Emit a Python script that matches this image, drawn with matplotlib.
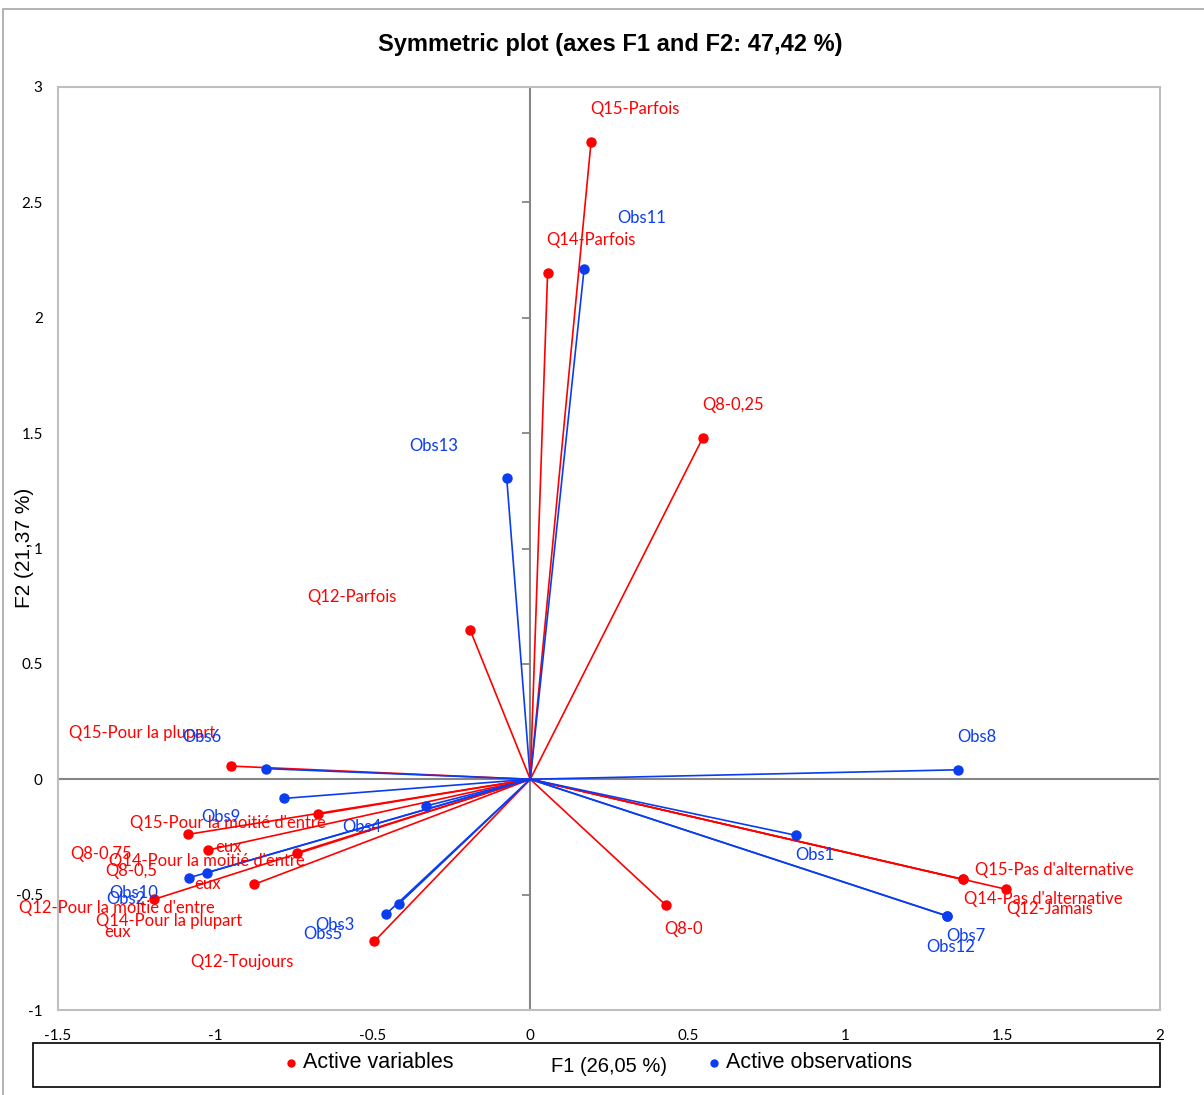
import matplotlib
matplotlib.use("Agg")
import matplotlib.pyplot as plt
from matplotlib.patches import Rectangle
from matplotlib.lines import Line2D
import numpy as np

# ---------------- data ----------------
var_names = ["Q8-0", "Q8-0,25", "Q8-0,5", "Q8-0,75",
             "Q12-Jamais", "Q12-Parfois", "Q12-Pour la moitié d'entre eux", "Q12-Toujours",
             "Q14-Parfois", "Q14-Pas d'alternative", "Q14-Pour la moitié d'entre eux", "Q14-Pour la plupart",
             "Q15-Parfois", "Q15-Pas d'alternative", "Q15-Pour la moitié d'entre eux", "Q15-Pour la plupart"]
var_f1 = [0.430, 0.548, -1.024, -1.088,
          1.512, -0.191, -1.194, -0.495,
          0.055, 1.373, -0.741, -0.876,
          0.193, 1.373, -0.675, -0.950]
var_f2 = [-0.545, 1.480, -0.307, -0.239,
          -0.477, 0.647, -0.520, -0.702,
          2.195, -0.434, -0.318, -0.455,
          2.762, -0.434, -0.152, 0.057]

obs_names = ["Obs1", "Obs2", "Obs3", "Obs4", "Obs5", "Obs6", "Obs7",
             "Obs8", "Obs9", "Obs10", "Obs11", "Obs12", "Obs13"]
obs_f1 = [0.844, -1.084, -0.418, -0.331, -0.457, -0.840, 1.325,
          1.359, -0.782, -1.027, 0.171, 1.325, -0.075]
obs_f2 = [-0.243, -0.427, -0.541, -0.116, -0.583, 0.046, -0.593,
          0.041, -0.083, -0.405, 2.213, -0.593, 1.307]

x_ticks = [-1.5, -1, -0.5, 0, 0.5, 1, 1.5, 2]
y_ticks = [-1, -0.5, 0, 0.5, 1, 1.5, 2, 2.5, 3]

title = "Symmetric plot (axes F1 and F2: 47,42 %)"
x_label = "F1 (26,05 %)"
y_label = "F2 (21,37 %)"

# label placement (centre of text, data coordinates) as rendered by the original tool
var_label_pos = {
    "Q8-0": [("Q8-0", 0.488, -0.648)],
    "Q8-0,25": [("Q8-0,25", 0.643, 1.622)],
    "Q8-0,5": [("Q8-0,5", -1.267, -0.398)],
    "Q8-0,75": [("Q8-0,75", -1.364, -0.324)],
    "Q12-Jamais": [("Q12-Jamais", 1.650, -0.564)],
    "Q12-Parfois": [("Q12-Parfois", -0.565, 0.790)],
    "Q12-Pour la moitié d'entre eux": [("Q12-Pour la moitié d'entre", -1.3125, -0.559),
                                       ("eux", -1.3125, -0.661)],
    "Q12-Toujours": [("Q12-Toujours", -0.9165, -0.791)],
    "Q14-Parfois": [("Q14-Parfois", 0.194, 2.336)],
    "Q14-Pas d'alternative": [("Q14-Pas d'alternative", 1.629, -0.519)],
    "Q14-Pour la moitié d'entre eux": [("Q14-Pour la moitié d'entre", -1.027, -0.354),
                                       ("eux", -1.025, -0.454)],
    "Q14-Pour la plupart": [("Q14-Pour la plupart", -1.148, -0.613)],
    "Q15-Parfois": [("Q15-Parfois", 0.3325, 2.903)],
    "Q15-Pas d'alternative": [("Q15-Pas d'alternative", 1.663, -0.393)],
    "Q15-Pour la moitié d'entre eux": [("Q15-Pour la moitié d'entre", -0.960, -0.190),
                                       ("eux", -0.959, -0.294)],
    "Q15-Pour la plupart": [("Q15-Pour la plupart", -1.2315, 0.199)],
}
obs_label_pos = {
    "Obs1": (0.9035, -0.328), "Obs2": (-1.284, -0.519), "Obs3": (-0.620, -0.632),
    "Obs4": (-0.534, -0.207), "Obs5": (-0.658, -0.672), "Obs6": (-1.0416, 0.184),
    "Obs7": (1.385, -0.679), "Obs8": (1.419, 0.182), "Obs9": (-0.984, -0.164),
    "Obs10": (-1.261, -0.492), "Obs11": (0.355, 2.434), "Obs12": (1.335, -0.726),
    "Obs13": (-0.308, 1.444),
}

# ---------------- styling ----------------
RED = "#FF0000"
BLUE = "#0A3CF0"
GRID_GRAY = "#BFBFBF"
AXIS_GRAY = "#868686"
LABEL_FONT = ["Lato", "DejaVu Sans"]
ARIAL = ["Liberation Sans", "DejaVu Sans"]
LBL_SIZE = 12

W, H = 1204, 1095
fig = plt.figure(figsize=(W / 100, H / 100), dpi=100)
fig.patch.set_facecolor("white")

# outer light frame
fig.add_artist(Rectangle((3 / W, -0.01), (W + 10) / W, (H - 9) / H + 0.01,
                         transform=fig.transFigure, fill=False,
                         edgecolor="#A6A6A6", linewidth=1.2))

left, right, top, bottom = 58, 1160, 87, 1010
ax = fig.add_axes([left / W, (H - bottom) / H, (right - left) / W, (bottom - top) / H])
ax.set_xlim(-1.5, 2)
ax.set_ylim(-1, 3)

for sp in ax.spines.values():
    sp.set_color(GRID_GRAY)
    sp.set_linewidth(1.5)

ax.axhline(0, color=AXIS_GRAY, lw=1.5, zorder=1)
ax.axvline(0, color=AXIS_GRAY, lw=1.5, zorder=1)
# small tick marks on the vertical axis line
ax.plot(np.zeros(len(y_ticks)), y_ticks, linestyle="none", marker=0,
        markersize=6, markeredgewidth=1.3, color=AXIS_GRAY, zorder=1, clip_on=False)

ax.set_xticks(x_ticks)
ax.set_xticklabels([f"{v:g}" for v in x_ticks], fontsize=11, family=LABEL_FONT)
ax.set_yticks(y_ticks)
ax.set_yticklabels([f"{v:g}" for v in y_ticks], fontsize=11, family=LABEL_FONT)
ax.tick_params(axis="both", length=0)
ax.tick_params(axis="x", pad=14)
ax.tick_params(axis="y", pad=11)

# vectors + points
for n, x, y in zip(var_names, var_f1, var_f2):
    ax.plot([0, x], [0, y], color=RED, lw=1.2, zorder=2)
    ax.plot(x, y, "o", color=RED, markersize=6.5, zorder=3)
for n, x, y in zip(obs_names, obs_f1, obs_f2):
    ax.plot([0, x], [0, y], color=BLUE, lw=1.2, zorder=2)
    ax.plot(x, y, "o", color=BLUE, markersize=6.5, zorder=3)

for n in var_names:
    for txt, lx, ly in var_label_pos[n]:
        ax.text(lx, ly, txt, color=RED, fontsize=LBL_SIZE, family=LABEL_FONT,
                ha="center", va="center", zorder=4)
for n in obs_names:
    lx, ly = obs_label_pos[n]
    ax.text(lx, ly, n, color=BLUE, fontsize=LBL_SIZE, family=LABEL_FONT,
            ha="center", va="center", zorder=4)

# title
fig.text(610 / W, 1 - 45 / H, title, ha="center", va="center",
         fontsize=17, fontweight="bold", family=ARIAL)

# y label
fig.text(25 / W, 1 - 548 / H, y_label, rotation=90, ha="center", va="center",
         fontsize=15, family=ARIAL)

# legend box with x label inside
fig.add_artist(Rectangle((33 / W, 1 - 1087 / H), (1160 - 33) / W, (1087 - 1043) / H,
                         transform=fig.transFigure, fill=False,
                         edgecolor="black", linewidth=1.2))
fig.text(609 / W, 1 - 1067 / H, x_label, ha="center", va="center",
         fontsize=14.5, family=ARIAL)
fig.add_artist(Line2D([291 / W], [1 - 1063 / H], marker="o", color=RED,
                      markersize=5, linestyle="none", transform=fig.transFigure))
fig.text(303 / W, 1 - 1063 / H, "Active variables", ha="left", va="center",
         fontsize=15.5, family=ARIAL)
fig.add_artist(Line2D([714 / W], [1 - 1063 / H], marker="o", color=BLUE,
                      markersize=5, linestyle="none", transform=fig.transFigure))
fig.text(726 / W, 1 - 1063 / H, "Active observations", ha="left", va="center",
         fontsize=15.5, family=ARIAL)

fig.savefig("out.png", dpi=100, facecolor="white")
